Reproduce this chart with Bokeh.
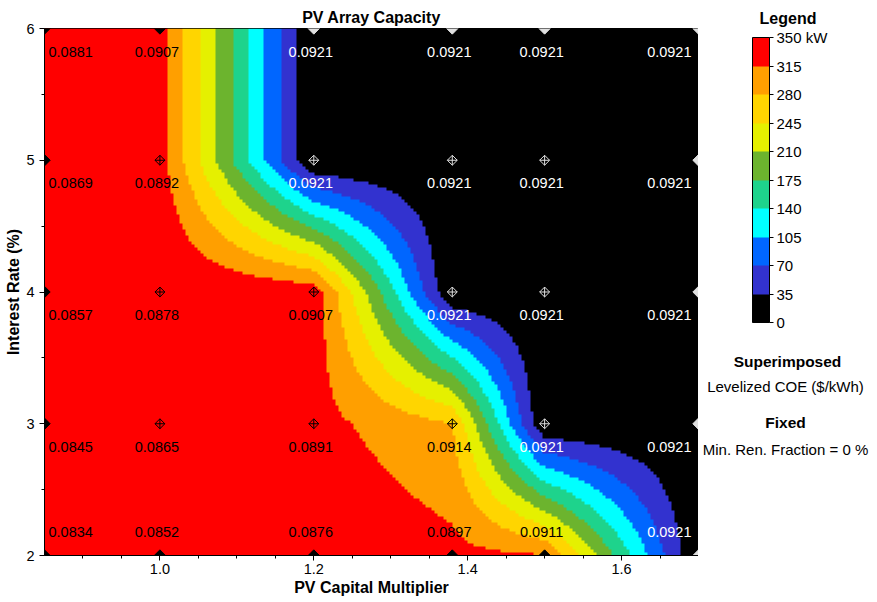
import numpy as np
from bokeh.plotting import figure
from bokeh.layouts import row
from bokeh.models import (Range1d, LinearColorMapper, ColorBar, FixedTicker, Label,
                          ColumnDataSource, PrintfTickFormatter)
from bokeh.core.properties import value
from bokeh.embed import file_html
from bokeh.resources import INLINE

# ---------------- data ----------------
pv_capital_multiplier = [0.85, 1.0, 1.2, 1.38, 1.5, 1.7]
interest_rate = [2, 3, 4, 5, 6]
# PV array capacity (kW), one row per interest rate (2..6)
pv_capacity_kw = [
    [350, 350, 350, 326, 317, 0],
    [350, 350, 328, 280, 0, 0],
    [350, 350, 337, 0, 0, 0],
    [350, 330, 0, 0, 0, 0],
    [350, 330, 0, 0, 0, 0],
]
# Levelized COE ($/kWh), superimposed values
levelized_coe = [
    [0.0834, 0.0852, 0.0876, 0.0897, 0.0911, 0.0921],
    [0.0845, 0.0865, 0.0891, 0.0914, 0.0921, 0.0921],
    [0.0857, 0.0878, 0.0907, 0.0921, 0.0921, 0.0921],
    [0.0869, 0.0892, 0.0921, 0.0921, 0.0921, 0.0921],
    [0.0881, 0.0907, 0.0921, 0.0921, 0.0921, 0.0921],
]
legend_levels = [0, 35, 70, 105, 140, 175, 210, 245, 280, 315, 350]
legend_colors = ["#000000", "#3232CF", "#0066FF", "#00FFFF", "#1ED38C",
                 "#6CB42E", "#E5F000", "#FFD500", "#FF9F00", "#FF0000"]
x_ticks = [1.0, 1.2, 1.4, 1.6]
y_ticks = [2, 3, 4, 5, 6]

FONT = "Liberation Sans"

# ---------------- surface (bilinear interpolation of the grid) ----------------
xv = np.array(pv_capital_multiplier, dtype=float)
yv = np.array(interest_rate, dtype=float)
Z0 = np.array(pv_capacity_kw, dtype=float)
x0, x1, y0, y1 = xv[0], xv[-1], yv[0], yv[-1]
nx, ny = 218, 176
xs = x0 + (np.arange(nx) + 0.5) * (x1 - x0) / nx
ys = y0 + (np.arange(ny) + 0.5) * (y1 - y0) / ny
rows = np.array([np.interp(xs, xv, Z0[j]) for j in range(len(yv))])
Z = np.array([np.interp(ys, yv, rows[:, k]) for k in range(nx)]).T

mapper = LinearColorMapper(palette=legend_colors, low=legend_levels[0], high=legend_levels[-1])

FL, FT, FW, FH = 44, 28, 654, 527
W, H = 877, 602
FB = H - FT - FH
p = figure(frame_width=FW, frame_height=FH, min_border_left=FL, min_border_right=0,
           min_border_top=FT, min_border_bottom=FB,
           x_range=Range1d(x0, x1), y_range=Range1d(y0, y1),
           output_backend="svg", toolbar_location=None, tools="")
p.image(image=[Z], x=x0, y=y0, dw=x1 - x0, dh=y1 - y0, color_mapper=mapper)


def style_title(fig, text, standoff):
    fig.title.text = text
    fig.title.align = "center"
    fig.title.text_font = FONT
    fig.title.text_font_size = "16px"
    fig.title.text_font_style = "bold"
    fig.title.text_color = "black"
    fig.title.standoff = standoff


style_title(p, "PV Array Capacity", 6)

p.grid.visible = False
p.outline_line_color = "black"
p.background_fill_color = "white"
p.border_fill_color = "white"

for ax in (p.xaxis[0], p.yaxis[0]):
    ax.major_tick_in = 0
    ax.major_tick_out = 5
    ax.minor_tick_in = 0
    ax.minor_tick_out = 3
    ax.axis_line_color = "black"
    ax.major_tick_line_color = "black"
    ax.minor_tick_line_color = "black"
    ax.major_label_text_font = FONT
    ax.major_label_text_font_size = "14.5px"
    ax.major_label_text_color = "black"
    ax.axis_label_text_font = FONT
    ax.axis_label_text_font_size = "16px"
    ax.axis_label_text_font_style = "bold"
    ax.axis_label_text_color = "black"

p.xaxis.ticker = FixedTicker(ticks=x_ticks,
                             minor_ticks=list(np.round(np.arange(0.9, 1.7, 0.05), 2)))
p.xaxis.formatter = PrintfTickFormatter(format="%.1f")
p.xaxis.axis_label = "PV Capital Multiplier"
p.xaxis.major_label_standoff = 3
p.xaxis.axis_label_standoff = 2
p.yaxis.ticker = FixedTicker(ticks=y_ticks, minor_ticks=[2.5, 3.5, 4.5, 5.5])
p.yaxis.formatter = PrintfTickFormatter(format="%d")
p.yaxis.axis_label = "Interest Rate (%)"
p.yaxis.major_label_standoff = 5
p.yaxis.axis_label_standoff = 1

# ---------------- markers and superimposed labels ----------------
pts = dict(x=[], y=[], txt=[], col=[], mcol=[], align=[], xo=[], yo=[], edge=[])
for j, yy in enumerate(interest_rate):
    for i, xx in enumerate(pv_capital_multiplier):
        dark = pv_capacity_kw[j][i] < legend_levels[1]
        pts["x"].append(xx)
        pts["y"].append(yy)
        pts["txt"].append("%.4f" % levelized_coe[j][i])
        pts["col"].append("white" if dark else "black")
        pts["mcol"].append("#E0E0E0" if dark else "black")
        if i == 0:
            pts["align"].append("left"); pts["xo"].append(4)
        elif i == len(pv_capital_multiplier) - 1:
            pts["align"].append("right"); pts["xo"].append(-7)
        else:
            pts["align"].append("center"); pts["xo"].append(-3)
        pts["yo"].append(-24 if j == 0 else 23)
        pts["edge"].append(i in (0, len(pv_capital_multiplier) - 1) or j in (0, len(interest_rate) - 1))

src_all = ColumnDataSource(pts)
edge_idx = [k for k, e in enumerate(pts["edge"]) if e]
in_idx = [k for k, e in enumerate(pts["edge"]) if not e]
src_edge = ColumnDataSource({k: [v[m] for m in edge_idx] for k, v in pts.items()})
src_in = ColumnDataSource({k: [v[m] for m in in_idx] for k, v in pts.items()})

p.scatter(x="x", y="y", source=src_edge, marker="square", angle=np.pi / 4, size=8,
          fill_color="mcol", line_color="mcol")
p.scatter(x="x", y="y", source=src_in, marker="square_x", angle=np.pi / 4, size=7,
          fill_color=None, line_color="mcol", line_width=1)
p.text(x="x", y="y", text="txt", source=src_all, text_color="col", text_align="align",
       text_baseline="middle", x_offset="xo", y_offset="yo",
       text_font=value(FONT), text_font_size="14.5px")

# ---------------- legend panel (frame aligned with the main frame) ----------------
LW = W - FL - FW
q = figure(frame_width=LW, frame_height=FH, min_border_left=0, min_border_right=0,
           min_border_top=FT, min_border_bottom=FB,
           x_range=Range1d(0, LW), y_range=Range1d(FT + FH, FT),
           output_backend="svg", toolbar_location=None, tools="")
q.axis.visible = False
q.grid.visible = False
q.outline_line_color = None
q.background_fill_color = "white"
q.border_fill_color = "white"
style_title(q, "Legend", 4)

cb = ColorBar(color_mapper=mapper, ticker=FixedTicker(ticks=legend_levels),
              major_label_overrides={350: "350 kW"},
              width=17, height=285, padding=0, location=(752 - FL - FW, FT + FH - 322),
              bar_line_color="black", bar_line_width=1,
              major_tick_line_color="black", major_tick_in=0, major_tick_out=4,
              label_standoff=3, major_label_text_font=FONT,
              major_label_text_font_size="15px", major_label_text_color="black",
              border_line_color=None, background_fill_alpha=0)
q.add_layout(cb, "center")


def lab(text, cx, cy, bold=False, size="15px"):
    q.add_layout(Label(x=cx - FL - FW, y=cy, text=text, text_align="center",
                       text_baseline="middle", text_font=FONT, text_font_size=size,
                       text_font_style="bold" if bold else "normal", text_color="black"))


lab("Superimposed", 787, 361, bold=True, size="15.5px")
lab("Levelized COE ($/kWh)", 785, 386)
lab("Fixed", 785, 422, bold=True, size="15.5px")
lab("Min. Ren. Fraction = 0 %", 785, 449)

layout = row(p, q, spacing=0)
open("out.html", "w").write(file_html(layout, INLINE))
